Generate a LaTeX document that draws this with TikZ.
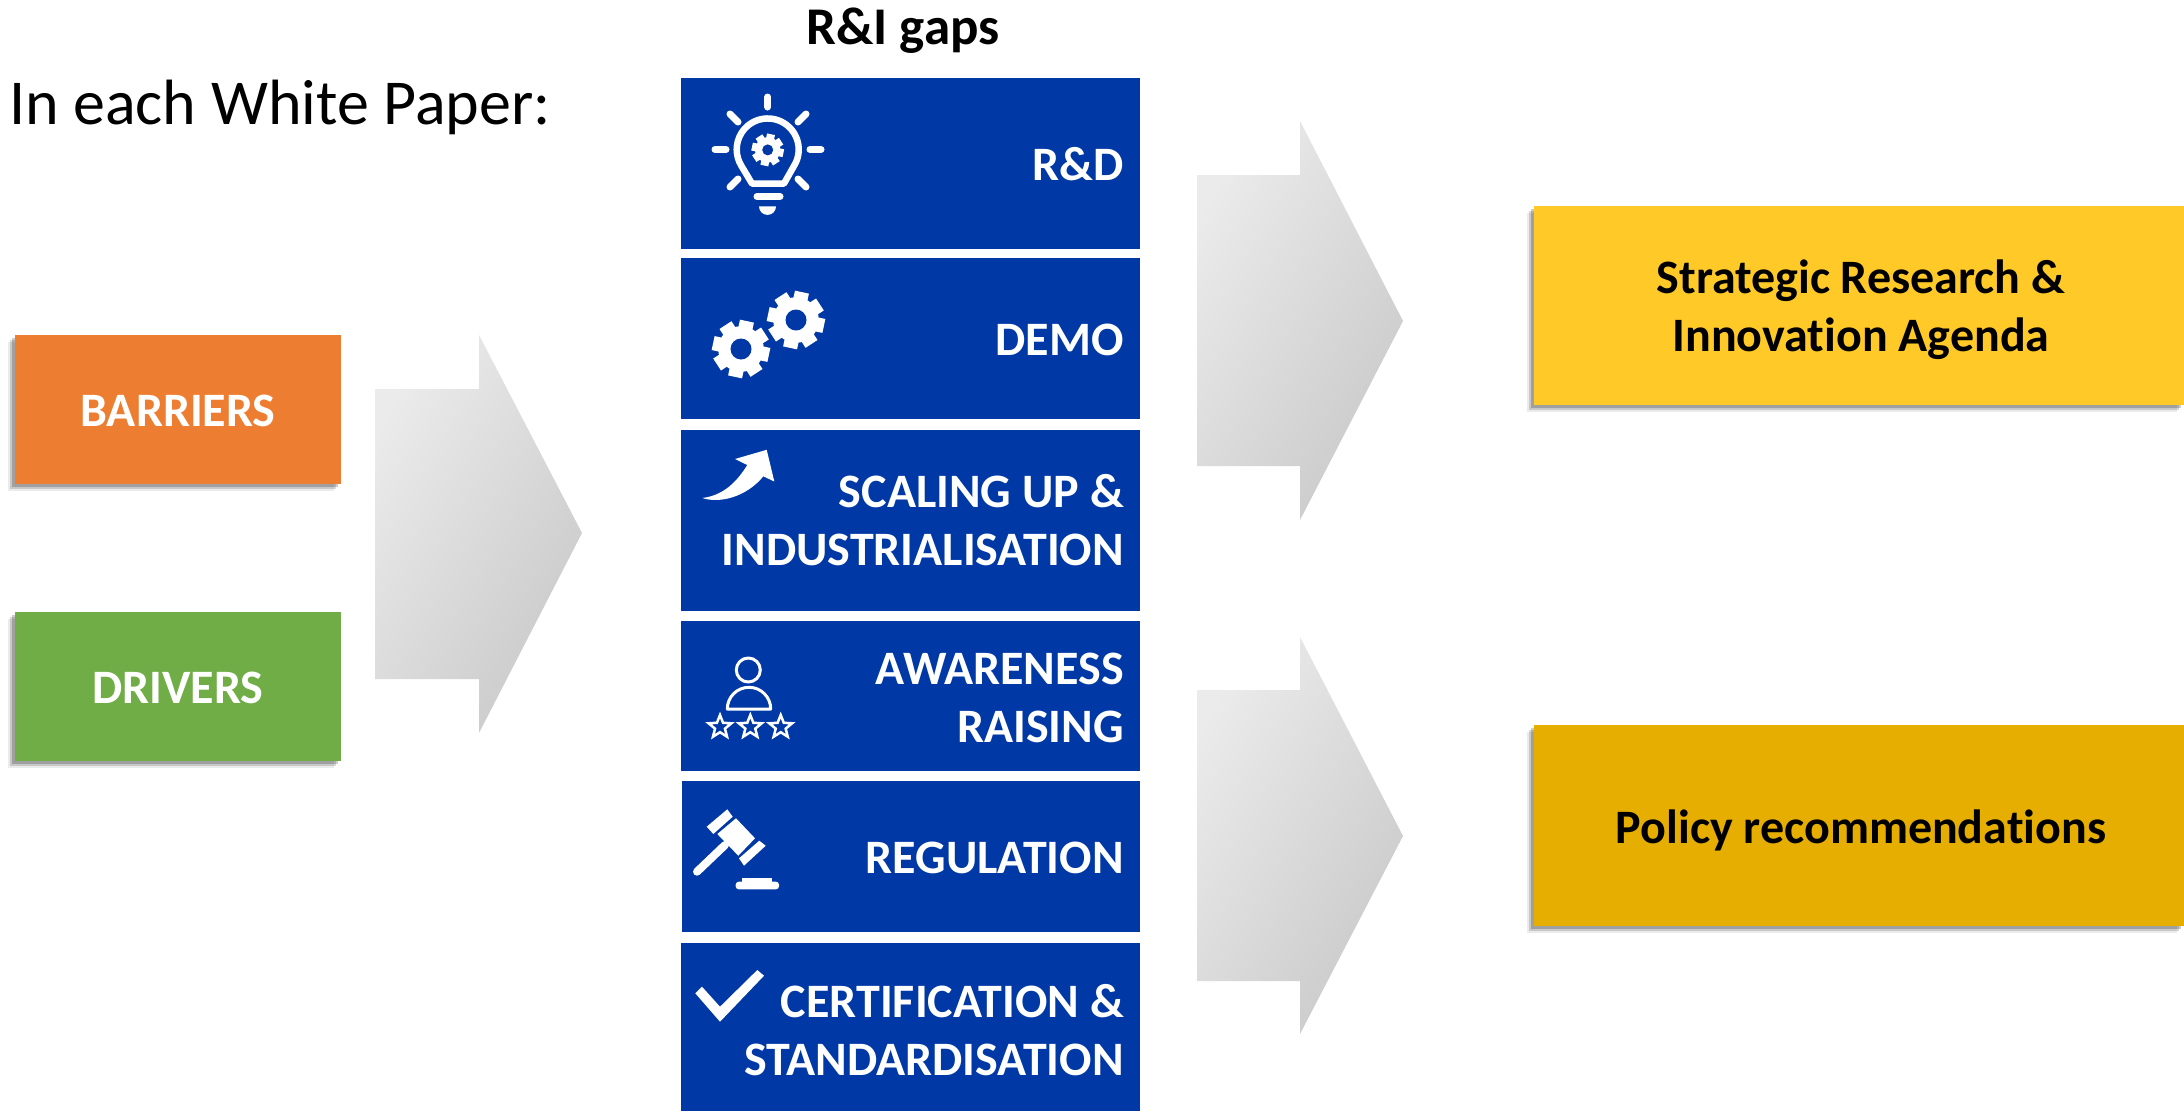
\documentclass[tikz,border=0pt]{standalone}
\usepackage{fontspec}
\setmainfont{Carlito}[Ligatures=CommonOff]
\usetikzlibrary{
        positioning,
        shadows,
        shapes.geometric
    }
\definecolor{gapblue}{HTML}{0038A6}
\definecolor{barrierorange}{HTML}{ED7D31}
\definecolor{drivergreen}{HTML}{70AD47}
\definecolor{agendayellow}{HTML}{FFCA28}
\definecolor{policygold}{HTML}{E5AE00}
\tikzset{x=1pt,y=-1pt}
\tikzset{outbox/.style={rectangle,inner sep=0pt,
        drop shadow={shadow xshift=-7pt,shadow yshift=-7pt,fill=black,opacity=.08},
        drop shadow={shadow xshift=-5pt,shadow yshift=-5pt,fill=black,opacity=.15},
        drop shadow={shadow xshift=-3pt,shadow yshift=-3pt,fill=black,opacity=.2}}}
\tikzset{outtext/.style={inner sep=0pt,align=center,font=\fontsize{48}{58}\selectfont\bfseries}}
\tikzset{gapbox/.style={rectangle,fill=gapblue,inner sep=0pt,minimum width=459pt}}
\tikzset{gaptext/.style={anchor=east,inner sep=0pt,align=right,text=white,font=\fontsize{48}{58}\selectfont\bfseries}}
\tikzset{flowarrow/.style={left color=black!8,right color=black!21,shading angle=60}}
\tikzset{iconline/.style={draw=white,line width=3pt,line cap=round,line join=round}}
\tikzset{raystroke/.style={draw=white,line width=7pt,line cap=round}}
\tikzset{staricon/.style={star,star points=5,star point ratio=2.3,draw=white,line width=2.5pt,inner sep=0pt,minimum size=24pt}}
\newcommand{\gearicon}[4]{% x, y, radius, hole
    \foreach \a in {0,45,...,315}
        \draw[white,line width=.5*#3pt] (#1,#2) ++(\a+12:.7*#3) -- ++(\a+12:.3*#3);
    \fill[white] (#1,#2) circle (.8*#3);
    \fill[gapblue] (#1,#2) circle (#4);
}
\begin{document}
\begin{tikzpicture}
    \useasboundingbox (0,0) rectangle (2184,1111);
    % left column
    \node[anchor=west,inner sep=0pt,font=\fontsize{64}{70}\selectfont] (intro) at (9,107) {In each White Paper:};
    \node[outbox,fill=barrierorange,minimum width=326pt,minimum height=149pt] (barriers) at (178,409.5) {};
    \node[outbox,fill=drivergreen,minimum width=326pt,minimum height=149pt] (drivers) at (178,686.5) {};
    \node[outtext,text=white] (barrierstext) at (178,411) {BARRIERS};
    \node[outtext,text=white] (driverstext) at (178,688) {DRIVERS};
    % gaps column
    \node[font=\fontsize{53}{60}\selectfont\bfseries,inner sep=0pt] (gaps) at (903,31) {R\&I gaps};
    \node[gapbox,minimum height=171pt] (rd) at (910.5,163.5) {};
    \node[gapbox,minimum height=161pt] (demo) at (910.5,338.5) {};
    \node[gapbox,minimum height=181pt] (scaling) at (910.5,520.5) {};
    \node[gapbox,minimum height=150pt] (awareness) at (910.5,696) {};
    \node[gapbox,minimum height=151pt,minimum width=458pt] (regulation) at (911,856.5) {};
    \node[gapbox,minimum height=168pt] (certification) at (910.5,1027) {};
    \node[gaptext] (rdtext) at (1124,164) {R\&D};
    \node[gaptext] (demotext) at (1124,340) {DEMO};
    \node[gaptext] (scalingtext) at (1124,520) {SCALING UP \&\\INDUSTRIALISATION};
    \node[gaptext] (awarenesstext) at (1124,698) {AWARENESS\\RAISING};
    \node[gaptext] (regulationtext) at (1124,858) {REGULATION};
    \node[gaptext] (certificationtext) at (1124,1030) {CERTIFICATION \&\\STANDARDISATION};
    % results
    \node[outbox,fill=agendayellow,minimum width=650pt,minimum height=199pt] (agenda) at (1859,305.5) {};
    \node[outbox,fill=policygold,minimum width=650pt,minimum height=201pt] (policy) at (1859,825.5) {};
    \node[outtext] (agendatext) at (1861,310) {Strategic Research \&\\Innovation Agenda};
    \node[outtext] (policytext) at (1861,830) {Policy recommendations};
    % big arrows
    \path[flowarrow] (375,389) -- (479,389) -- (479,335) -- (582,533) -- (479,733) -- (479,679) -- (375,679) -- cycle;
    \path[flowarrow] (1197,175) -- (1300,175) -- (1300,121) -- (1403,321) -- (1300,520) -- (1300,466) -- (1197,466) -- cycle;
    \path[flowarrow] (1197,690) -- (1300,690) -- (1300,637) -- (1403,836) -- (1300,1034) -- (1300,981) -- (1197,981) -- cycle;
    % bulb
    \draw[raystroke] (767.7,97) -- (767.7,107);
    \draw[raystroke] (730,114) -- (738,122);
    \draw[raystroke] (806,114) -- (798,122);
    \draw[raystroke] (715,149.5) -- (726,149.5);
    \draw[raystroke] (810,149.5) -- (821,149.5);
    \draw[raystroke] (730,187) -- (738,179);
    \draw[raystroke] (806,187) -- (798,179);
    \draw[iconline,line width=6.5pt] (752,183.6) -- (784,183.6) -- (794,165.9) arc[start angle=32,end angle=-212,radius=31] -- cycle;
    \draw[raystroke] (757,196.5) -- (780,196.5);
    \fill[white] (759,206.4) -- (776,206.4) arc[start angle=0,end angle=180,radius=8.5] -- cycle;
    \gearicon{767.7}{149.9}{16}{5.5}
    % gears
    \gearicon{796}{320}{28.5}{10.5}
    \gearicon{741}{349}{28.5}{10.5}
    % curved arrow
    \fill[white] (702.3,498) .. controls (725,495.3) and (738,479.8) .. (747.3,465) -- (735,459) -- (766.7,449.8) -- (774.3,481.5) -- (763.3,476.3) .. controls (746.7,496.7) and (720,503.9) .. (702.3,498) -- cycle;
    % person and stars
    \draw[iconline] (748.3,670) circle (12);
    \draw[iconline] (727.3,709) arc[start angle=180,end angle=360,radius=21.7] -- cycle;
    \node[staricon] (star1) at (720,727) {};
    \node[staricon] (star2) at (750.3,727) {};
    \node[staricon] (star3) at (780.7,727) {};
    % gavel
    \draw[white,line width=8pt,line cap=round] (697,871.7) -- (725,845);
    \fill[white] (717.3,834) -- (736,818.3) -- (755,838.3) -- (738.3,855.7) -- cycle;
    \fill[white] (706.7,826.7) -- (727.3,809.3) -- (732.7,816.7) -- (713.3,834) -- cycle;
    \fill[white] (739,858.3) -- (759.3,840.7) -- (765.7,845.7) -- (744,865.7) -- cycle;
    \fill[white,rounded corners=3pt] (735.7,881.7) rectangle (779,889.3);
    \fill[white] (741.7,877.7) rectangle (771.7,882);
    % check
    \fill[white] (695.3,993.3) -- (702,986.7) -- (720,1006.7) -- (757.3,970) -- (764,975.7) -- (720,1021.7) -- cycle;
\end{tikzpicture}
\end{document}
